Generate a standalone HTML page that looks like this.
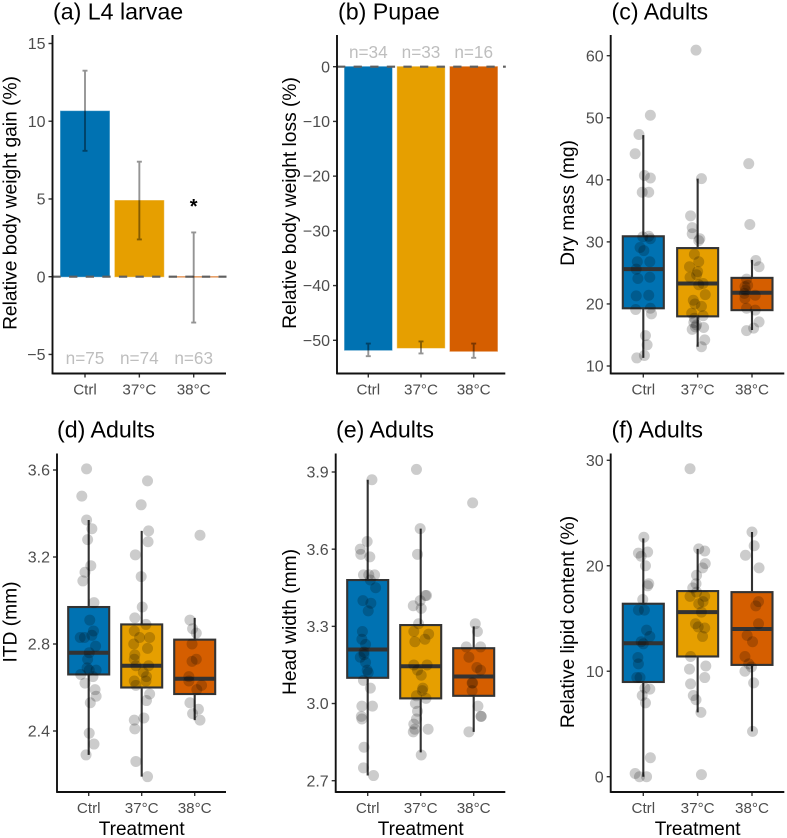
<!DOCTYPE html>
<html lang="en">
<head>
<meta charset="utf-8">
<title>Heat treatment effects on body weight and adult traits</title>
<style>
  html, body { margin: 0; padding: 0; background: #fff; }
  svg { display: block; font-family: "Liberation Sans", Arial, sans-serif; filter: blur(0.35px); }
</style>
</head>
<body>
<svg id="figure" xmlns="http://www.w3.org/2000/svg" width="787" height="838" viewBox="0 0 787 838"></svg>
<script>
// ---------- shared data ----------
const categories = ['Ctrl', '37°C', '38°C'];
const fillColors = ['#0072B2', '#E69F00', '#D55E00'];

// ---------- (a) L4 larvae ----------
const larvaeTicks = [-5, 0, 5, 10, 15];
const larvaeMeans = [10.65, 4.9, 0];
const larvaeErrLow = [8.1, 2.4, -2.95];
const larvaeErrHigh = [13.25, 7.4, 2.85];
const larvaeCounts = ['n=75', 'n=74', 'n=63'];

// ---------- (b) Pupae ----------
const pupaeTicks = [-50, -40, -30, -20, -10, 0];
const pupaeMeans = [-51.8, -51.4, -52.0];
const pupaeErrLow = [-52.9, -52.4, -53.2];
const pupaeErrHigh = [-50.6, -50.2, -50.6];
const pupaeCounts = ['n=34', 'n=33', 'n=16'];

// ---------- (c) Dry mass ----------
const dryMassTicks = [10, 20, 30, 40, 50, 60];
const dryMassStats = [
  [11.3, 19.3, 25.6, 30.9, 47.2],
  [13.1, 18.0, 23.3, 29.0, 40.2],
  [15.8, 19.0, 21.8, 24.2, 27.1]
];
const dryMassCtrl = [50.4,47.3,44.2,40.7,40.3,38.0,38.0,30.8,30.9,30.5,29.1,28.6,26.8,26.8,25.6,24.1,24.3,21.3,21.4,19.1,19.3,18.4,14.9,13.4,11.7,11.3];
const dryMassCtrlJitter = [.13,-.08,-.15,.02,.13,-.02,.10,-.01,.10,.13,-.06,.01,-.11,.12,-.13,-.10,.12,-.13,.10,-.14,.13,.15,.04,.07,.02,-.12];
const dryMass37 = [60.9,40.2,34.2,32.3,31.3,30.5,30.2,28.0,26.8,26.0,25.2,24.3,24.7,23.3,23.1,21.5,20.6,20.0,19.6,18.5,18.1,17.7,17.0,16.6,16.2,15.9,16.3,14.2,13.1];
const dryMass37Jitter = [-.03,.07,-.13,-.10,-.10,.04,.02,-.06,.02,-.15,0,-.14,-.02,.10,.02,.14,-.08,-.05,.07,-.11,.10,-.06,-.07,-.02,.11,-.10,-.04,.13,.07];
const dryMass38 = [42.6,32.8,27.0,26.0,24.0,22.8,21.7,21.4,20.9,19.3,19.0,17.1,16.1,15.7,23.0,22.2];
const dryMass38Jitter = [-.06,-.04,.07,.13,-.10,-.13,-.14,.06,-.13,-.10,.06,.13,.03,-.10,-.08,-.12];

// ---------- (d) ITD ----------
const itdTicks = [2.4, 2.8, 3.2, 3.6];
const itdStats = [
  [2.29, 2.66, 2.76, 2.97, 3.37],
  [2.19, 2.60, 2.70, 2.89, 3.32],
  [2.45, 2.57, 2.64, 2.82, 2.92]
];
const itdCtrl = [3.605,3.48,3.37,3.33,3.28,3.16,3.13,3.09,2.99,2.91,2.86,2.84,2.83,2.83,2.79,2.76,2.73,2.69,2.68,2.68,2.66,2.65,2.62,2.59,2.56,2.53,2.39,2.34,2.29];
const itdCtrlJitter = [-.04,-.13,-.04,.06,-.02,.04,-.07,-.11,.10,.02,.09,.06,-.08,-.16,.13,.01,-.02,-.03,.14,.01,-.15,.08,-.07,.12,.14,.03,.01,.10,-.05];
const itd37 = [3.55,3.44,3.32,3.27,3.21,3.11,2.97,2.92,2.89,2.86,2.83,2.83,2.80,2.78,2.75,2.73,2.70,2.70,2.65,2.63,2.67,2.63,2.61,2.57,2.54,2.45,2.46,2.41,2.26,2.19];
const itd37Jitter = [.11,-.01,.13,.12,-.12,-.01,.01,-.13,.08,-.14,-.04,.15,-.15,.11,-.13,-.14,-.11,.13,.09,-.14,.03,.08,-.11,.15,.09,-.14,.04,-.13,-.11,.11];
const itd38 = [3.30,2.91,2.87,2.85,2.80,2.73,2.72,2.65,2.63,2.61,2.59,2.53,2.50,2.48,2.45];
const itd38Jitter = [.10,-.09,-.04,.03,-.05,.03,-.05,-.11,-.11,.13,.04,-.09,.07,-.04,.10];

// ---------- (e) Head width ----------
const headTicks = [2.7, 3.0, 3.3, 3.6, 3.9];
const headStats = [
  [2.72, 3.10, 3.21, 3.48, 3.87],
  [2.81, 3.02, 3.145, 3.305, 3.68],
  [2.89, 3.03, 3.105, 3.215, 3.30]
];
const headCtrl = [3.87,3.63,3.60,3.58,3.57,3.50,3.50,3.50,3.48,3.45,3.40,3.39,3.36,3.28,3.25,3.23,3.20,3.18,3.19,3.16,3.13,3.12,3.09,3.06,2.99,2.99,2.94,2.95,2.83,2.75,2.72];
const headCtrlJitter = [.08,-.01,-.14,-.13,.04,-.08,.13,.02,.05,.15,-.09,.06,.01,-.10,-.11,-.04,-.07,-.14,-.07,-.04,-.01,.01,-.08,.05,-.11,.09,-.11,-.12,-.07,-.08,.11];
const head37 = [3.91,3.68,3.58,3.42,3.42,3.38,3.40,3.37,3.31,3.28,3.27,3.25,3.24,3.15,3.15,3.13,3.11,3.06,3.05,3.03,3.02,3.00,2.97,2.94,2.92,2.90,2.89,2.90,2.80];
const head37Jitter = [-.08,-.01,-.06,.11,.09,-.14,-.01,.01,-.04,-.13,.15,.08,-.11,-.13,.12,-.06,.01,.04,.03,-.08,.10,-.10,-.06,-.08,-.13,-.11,-.14,.14,.01];
const head38 = [3.78,3.31,3.28,3.22,3.22,3.18,3.14,3.13,3.08,3.08,3.05,2.99,2.95,2.95,2.89];
const head38Jitter = [-.02,.03,.07,-.14,.13,-.09,.06,.13,-.03,-.02,-.03,.08,.14,.14,-.09];

// ---------- (f) Lipid content ----------
const lipidTicks = [0, 10, 20, 30];
const lipidStats = [
  [0, 8.98, 12.65, 16.4, 22.6],
  [6.1, 11.4, 15.6, 17.6, 21.6],
  [4.3, 10.6, 14.0, 17.5, 23.2]
];
const lipidCtrl = [22.7,21.2,21.3,20.9,20.0,18.3,18.1,16.8,15.8,15.8,13.9,13.3,12.8,12.6,11.3,10.7,9.4,9.4,8.3,8.4,7.7,7.0,1.8,0.3,0,0];
const lipidCtrlJitter = [.01,-.09,.08,-.04,.04,.10,.08,-.01,-.09,.02,.06,.12,-.04,0,-.10,-.09,-.12,-.06,.12,.03,-.02,.04,.13,-.15,-.07,.06];
const lipid37 = [29.2,21.6,21.4,20.2,19.8,19.1,18.3,17.9,17.5,17.1,17.1,16.6,16.4,15.6,14.5,14.1,14.2,13.3,11.4,10.2,10.5,9.4,8.8,7.7,7.3,6.1,0.2];
const lipid37Jitter = [-.14,.02,.13,.14,.09,-.02,-.03,-.09,-.02,-.14,.13,.10,.02,.07,-.04,.13,.01,.09,-.13,-.15,.15,.13,-.13,-.08,-.03,.06,.07];
const lipid38 = [23.2,21.9,21.0,19.8,16.6,16.2,14.5,13.4,12.8,11.4,10.7,10.0,10.4,8.9,4.3];
const lipid38Jitter = [0,.04,-.12,.13,.12,.07,.12,-.09,.01,-.13,-.06,-.13,-.01,.03,.01];

// ---------- helpers ----------
const NS = 'http://www.w3.org/2000/svg';
const fig = document.getElementById('figure');

function make(tag, attrs, parent) {
  const el = document.createElementNS(NS, tag);
  for (const k in attrs) el.setAttribute(k, attrs[k]);
  parent.appendChild(el);
  return el;
}

function linearScale(d0, r0, d1, r1) {
  return v => r0 + (v - d0) * (r1 - r0) / (d1 - d0);
}

function label(v, digits) {
  const s = Math.abs(v).toFixed(digits);
  return v < 0 ? '\u2212' + s : s;
}

// Draws axes, ticks and titles; returns the scales for the panel's marks.
function drawFrame(cfg) {
  const g = make('g', {}, fig);
  
  

  const y = linearScale(cfg.yRef[0], cfg.yRef[1], cfg.yRef[2], cfg.yRef[3]);
  const x = i => cfg.catX + i * cfg.catStep;

  const title = make('text', { x: cfg.titleX, y: cfg.titleY, 'font-size': 23.2, fill: '#000' }, g);
  title.textContent = cfg.title;
  
  

  const yTitle = make('text', {
    transform: 'translate(' + cfg.yTitleX + ',' + cfg.yTitleY + ') rotate(-90)',
    'text-anchor': 'middle', 'font-size': 19.2, fill: '#000'
  }, g);
  yTitle.textContent = cfg.yTitle;
  
  

  cfg.ticks.forEach(t => {
    const tick = make('line', { x1: cfg.axisX - 4, x2: cfg.axisX, y1: y(t), y2: y(t), stroke: '#333', 'stroke-width': 1.4 }, g);
    
    
    const tl = make('text', { x: cfg.axisX - 7, y: y(t) + 5.6, 'text-anchor': 'end', 'font-size': 16, fill: '#4d4d4d' }, g);
    tl.textContent = label(t, cfg.digits);
    
    
  });

  categories.forEach((c, i) => {
    const tick = make('line', { x1: x(i), x2: x(i), y1: cfg.bottom, y2: cfg.bottom + 4, stroke: '#333', 'stroke-width': 1.4 }, g);
    
    
    const tl = make('text', { x: x(i), y: cfg.bottom + 20.8, 'text-anchor': 'middle', 'font-size': 15.2, fill: '#4d4d4d' }, g);
    tl.textContent = c;
    
    
  });

  if (cfg.xTitle) {
    const xt = make('text', { x: x(1), y: cfg.bottom + 43, 'text-anchor': 'middle', 'font-size': 19, fill: '#000' }, g);
    xt.textContent = cfg.xTitle;
    
    
  }

  const marks = make('g', {}, g);
  
  

  const yAxis = make('line', { x1: cfg.axisX, x2: cfg.axisX, y1: cfg.top, y2: cfg.bottom + 0.9, stroke: '#111', 'stroke-width': 1.9 }, g);
  
  
  const xAxis = make('line', { x1: cfg.axisX, x2: cfg.right, y1: cfg.bottom, y2: cfg.bottom, stroke: '#111', 'stroke-width': 1.9 }, g);
  
  

  return { x, y, marks };
}

function drawBars(cfg, means, low, high, counts, countY) {
  const { x, y, marks } = drawFrame(cfg);
  const w = cfg.catStep * 0.9;
  means.forEach((m, i) => {
    const top = Math.min(y(m), y(0));
    const h = Math.max(Math.abs(y(m) - y(0)), 0.4);
    const bar = make('rect', {
      x: x(i) - w / 2, y: top, width: w, height: h,
      fill: fillColors[i], stroke: fillColors[i], 'stroke-opacity': 0.55, 'stroke-width': 1
    }, marks);
    
    
  });
  const zero = make('line', {
    x1: cfg.axisX, x2: cfg.right + 0.5, y1: y(0), y2: y(0),
    stroke: '#5f5f5f', 'stroke-width': 2.1, 'stroke-dasharray': '8.3 8.3'
  }, marks);
  
  
  means.forEach((m, i) => {
    const eb = make('path', {
      d: 'M' + (x(i) - 2.5) + ' ' + y(high[i]) + 'H' + (x(i) + 2.5) +
         'M' + x(i) + ' ' + y(high[i]) + 'V' + y(low[i]) +
         'M' + (x(i) - 2.5) + ' ' + y(low[i]) + 'H' + (x(i) + 2.5),
      fill: 'none', stroke: '#000', 'stroke-opacity': 0.42, 'stroke-width': 1.9
    }, marks);
    
    
    const n = make('text', { x: x(i), y: countY, 'text-anchor': 'middle', 'font-size': 17.2, fill: '#bebebe' }, marks);
    n.textContent = counts[i];
    
    
  });
  return { x, y, marks };
}

function drawBoxes(cfg, stats, values, jitters) {
  const { x, y, marks } = drawFrame(cfg);
  const w = 41;
  stats.forEach((s, i) => {
    const cx = x(i);
    const whisker = make('path', {
      d: 'M' + cx + ' ' + y(s[0]) + 'V' + y(s[1]) + 'M' + cx + ' ' + y(s[3]) + 'V' + y(s[4]),
      stroke: '#333', 'stroke-width': 2.1, fill: 'none'
    }, marks);
    
    
    const box = make('rect', {
      x: cx - w / 2, y: y(s[3]), width: w, height: y(s[1]) - y(s[3]),
      fill: fillColors[i], stroke: '#333', 'stroke-width': 2.1
    }, marks);
    
    
    const med = make('line', {
      x1: cx - w / 2, x2: cx + w / 2, y1: y(s[2]), y2: y(s[2]),
      stroke: '#333', 'stroke-width': 4
    }, marks);
    
    
  });
  values.forEach((series, i) => {
    series.forEach((v, j) => {
      const pt = make('circle', {
        cx: x(i) + jitters[i][j] * cfg.catStep, cy: y(v), r: 5.5,
        fill: '#000', 'fill-opacity': 0.2
      }, marks);
      
      
    });
  });
}

// ---------- panels ----------
const row1 = { top: 35, bottom: 373.5, titleY: 19.5, yTitleY: 203 };
const row2 = { top: 453.5, bottom: 792, titleY: 437.5, yTitleY: 622 };

const a = drawBars(Object.assign({}, row1, {
  name: 'panel-a-l4-larvae', title: '(a) L4 larvae', titleX: 53, yTitle: 'Relative body weight gain (%)', yTitleX: 16.7,
  axisX: 52.5, right: 226, catX: 85, catStep: 54.35, ticks: larvaeTicks, digits: 0, yRef: [0, 276.7, 15, 43.5]
}), larvaeMeans, larvaeErrLow, larvaeErrHigh, larvaeCounts, 364.2);

const star = make('text', { x: a.x(2), y: 213, 'text-anchor': 'middle', 'font-size': 20, 'font-weight': 'bold', fill: '#000' }, a.marks);
star.textContent = '*';



drawBars(Object.assign({}, row1, {
  name: 'panel-b-pupae', title: '(b) Pupae', titleX: 338, yTitle: 'Relative body weight loss (%)', yTitleX: 296,
  axisX: 337, right: 505.3, catX: 368.3, catStep: 52.7, ticks: pupaeTicks, digits: 0, yRef: [0, 66.7, -50, 340.3]
}), pupaeMeans, pupaeErrLow, pupaeErrHigh, pupaeCounts, 57.8);

drawBoxes(Object.assign({}, row1, {
  name: 'panel-c-dry-mass', title: '(c) Adults', titleX: 611.5, yTitle: 'Dry mass (mg)', yTitleX: 574,
  axisX: 610.7, right: 784.3, catX: 643.3, catStep: 54.35, ticks: dryMassTicks, digits: 0, yRef: [10, 366, 60, 55.7]
}), dryMassStats, [dryMassCtrl, dryMass37, dryMass38], [dryMassCtrlJitter, dryMass37Jitter, dryMass38Jitter]);

drawBoxes(Object.assign({}, row2, {
  name: 'panel-d-itd', title: '(d) Adults', titleX: 57, yTitle: 'ITD (mm)', yTitleX: 16.7, xTitle: 'Treatment',
  axisX: 57, right: 226, catX: 88.7, catStep: 53, ticks: itdTicks, digits: 1, yRef: [2.4, 731, 3.6, 470]
}), itdStats, [itdCtrl, itd37, itd38], [itdCtrlJitter, itd37Jitter, itd38Jitter]);

drawBoxes(Object.assign({}, row2, {
  name: 'panel-e-head-width', title: '(e) Adults', titleX: 336, yTitle: 'Head width (mm)', yTitleX: 296, xTitle: 'Treatment',
  axisX: 335.7, right: 505.3, catX: 367.7, catStep: 53, ticks: headTicks, digits: 1, yRef: [2.7, 780.7, 3.9, 472]
}), headStats, [headCtrl, head37, head38], [headCtrlJitter, head37Jitter, head38Jitter]);

drawBoxes(Object.assign({}, row2, {
  name: 'panel-f-lipid-content', title: '(f) Adults', titleX: 611.5, yTitle: 'Relative lipid content (%)', yTitleX: 574, xTitle: 'Treatment',
  axisX: 610.7, right: 784.3, catX: 643.3, catStep: 54.35, ticks: lipidTicks, digits: 0, yRef: [0, 776.7, 30, 460.3]
}), lipidStats, [lipidCtrl, lipid37, lipid38], [lipidCtrlJitter, lipid37Jitter, lipid38Jitter]);
</script>
</body>
</html>
